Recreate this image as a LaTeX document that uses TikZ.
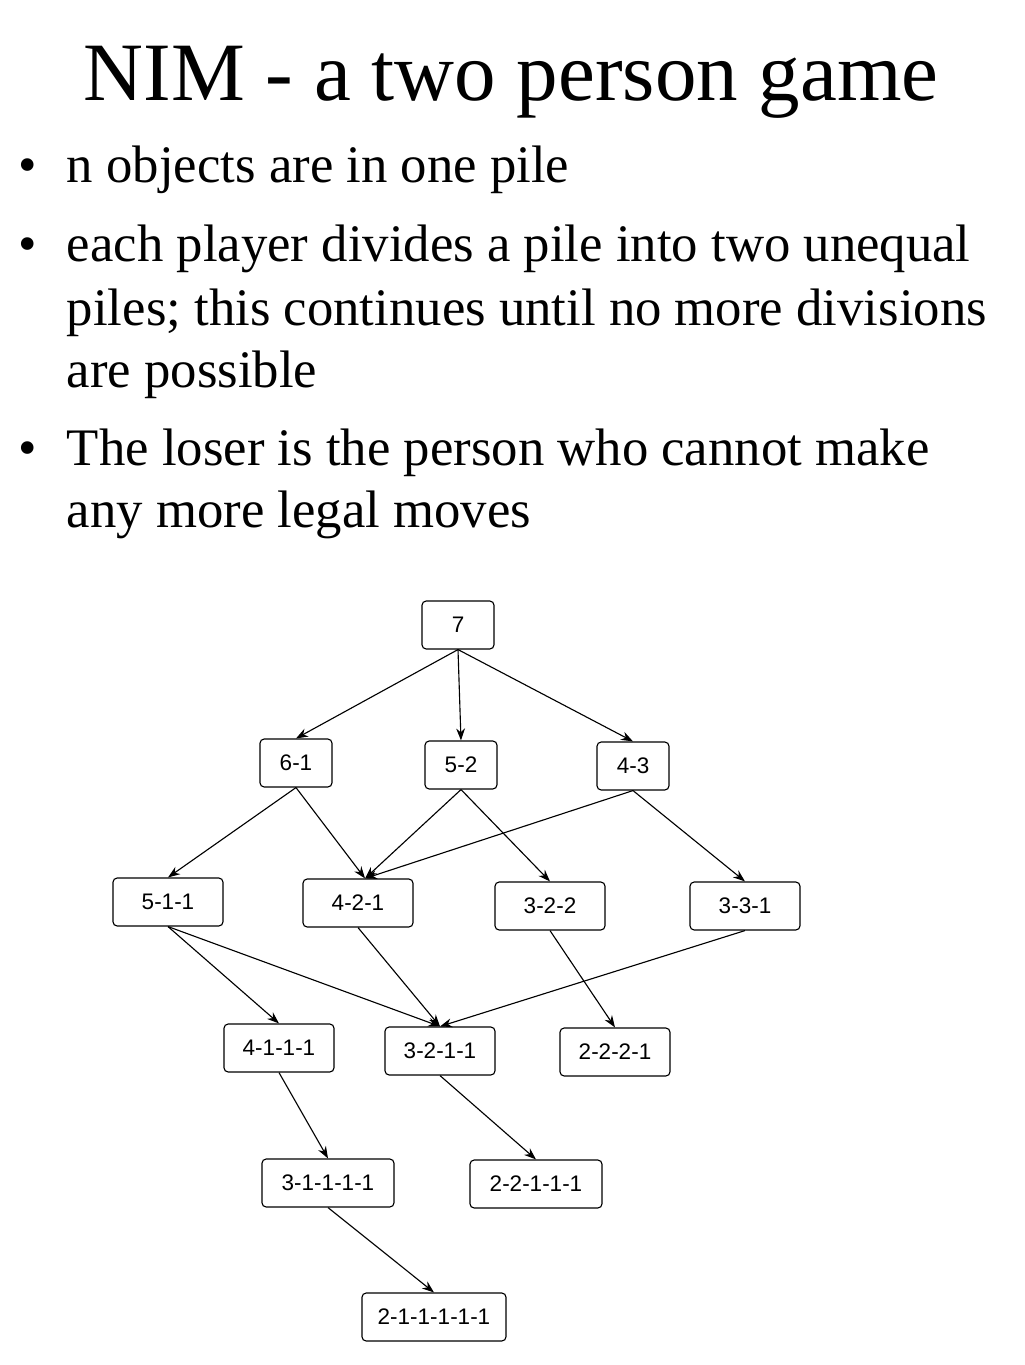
\documentclass[tikz,border=0pt]{standalone}
\usepackage{fontspec}
\setmainfont{Liberation Serif}
\newfontfamily\boxfont{Liberation Sans}
\usetikzlibrary{arrows.meta}
\tikzset{
  pile/.style={rectangle, rounded corners=3pt, draw=black, thick, fill=white, minimum height=1.2cm, font=\boxfont\fontsize{16}{19}\selectfont},
  move/.style={black, thick, -{Stealth[length=3mm,width=2.2mm]}},
  line/.style={anchor=base west, font=\fontsize{37.5}{44}\selectfont}
}
\begin{document}
\begin{tikzpicture}[x=0.025cm,y=-0.025cm]
\useasboundingbox (0,0) rectangle (1024,1365);

\node[anchor=base, font=\fontsize{59}{66}\selectfont] (title) at (511,101) {NIM - a two person game};
\foreach \y in {183,262,465} \node[line] at (14,\y) {\textbullet};
\node[line] (l1) at (62,183) {n objects are in one pile};
\node[line] (l2) at (62,262) {each player divides a pile into two unequal};
\node[line] (l3) at (62,325) {piles; this continues until no more divisions};
\node[line] (l4) at (62,387) {are possible};
\node[line] (l5) at (62,465) {The loser is the person who cannot make};
\node[line] (l6) at (62,527) {any more legal moves};

% game tree
\node[pile, minimum width=1.8cm] (n7) at (458,625) {7};
\node[pile, minimum width=1.8cm] (n61) at (296,763) {6-1};
\node[pile, minimum width=1.8cm] (n52) at (461,765) {5-2};
\node[pile, minimum width=1.8cm] (n43) at (633,766) {4-3};
\node[pile, minimum width=2.75cm] (n511) at (168,902) {5-1-1};
\node[pile, minimum width=2.75cm] (n421) at (358,903) {4-2-1};
\node[pile, minimum width=2.75cm] (n322) at (550,906) {3-2-2};
\node[pile, minimum width=2.75cm] (n331) at (745,906) {3-3-1};
\node[pile, minimum width=2.75cm] (n4111) at (279,1048) {4-1-1-1};
\node[pile, minimum width=2.75cm] (n3211) at (440,1051) {3-2-1-1};
\node[pile, minimum width=2.75cm] (n2221) at (615,1052) {2-2-2-1};
\node[pile, minimum width=3.3cm] (n31111) at (328,1183) {3-1-1-1-1};
\node[pile, minimum width=3.3cm] (n22111) at (536,1184) {2-2-1-1-1};
\node[pile, minimum width=3.6cm] (n211111) at (434,1317) {2-1-1-1-1-1};

\draw[move] (n7.south) -- (n61.north);
\draw[move] (n7.south) -- (n52.north);
\draw[move] (n7.south) -- (n43.north);
\draw[move] (n61.south) -- (n511.north);
\draw[move] (n61.south) -- ([xshift=5pt]n421.north);
\draw[move] (n52.south) -- ([xshift=5pt]n421.north);
\draw[move] (n52.south) -- (n322.north);
\draw[move] (n43.south) -- ([xshift=5pt]n421.north);
\draw[move] (n43.south) -- (n331.north);
\draw[move] (n511.south) -- (n4111.north);
\draw[move] (n511.south) -- (n3211.north);
\draw[move] (n421.south) -- (n3211.north);
\draw[move] (n322.south) -- (n2221.north);
\draw[move] (n331.south) -- (n3211.north);
\draw[move] (n4111.south) -- (n31111.north);
\draw[move] (n3211.south) -- (n22111.north);
\draw[move] (n31111.south) -- (n211111.north);
\end{tikzpicture}
\end{document}
